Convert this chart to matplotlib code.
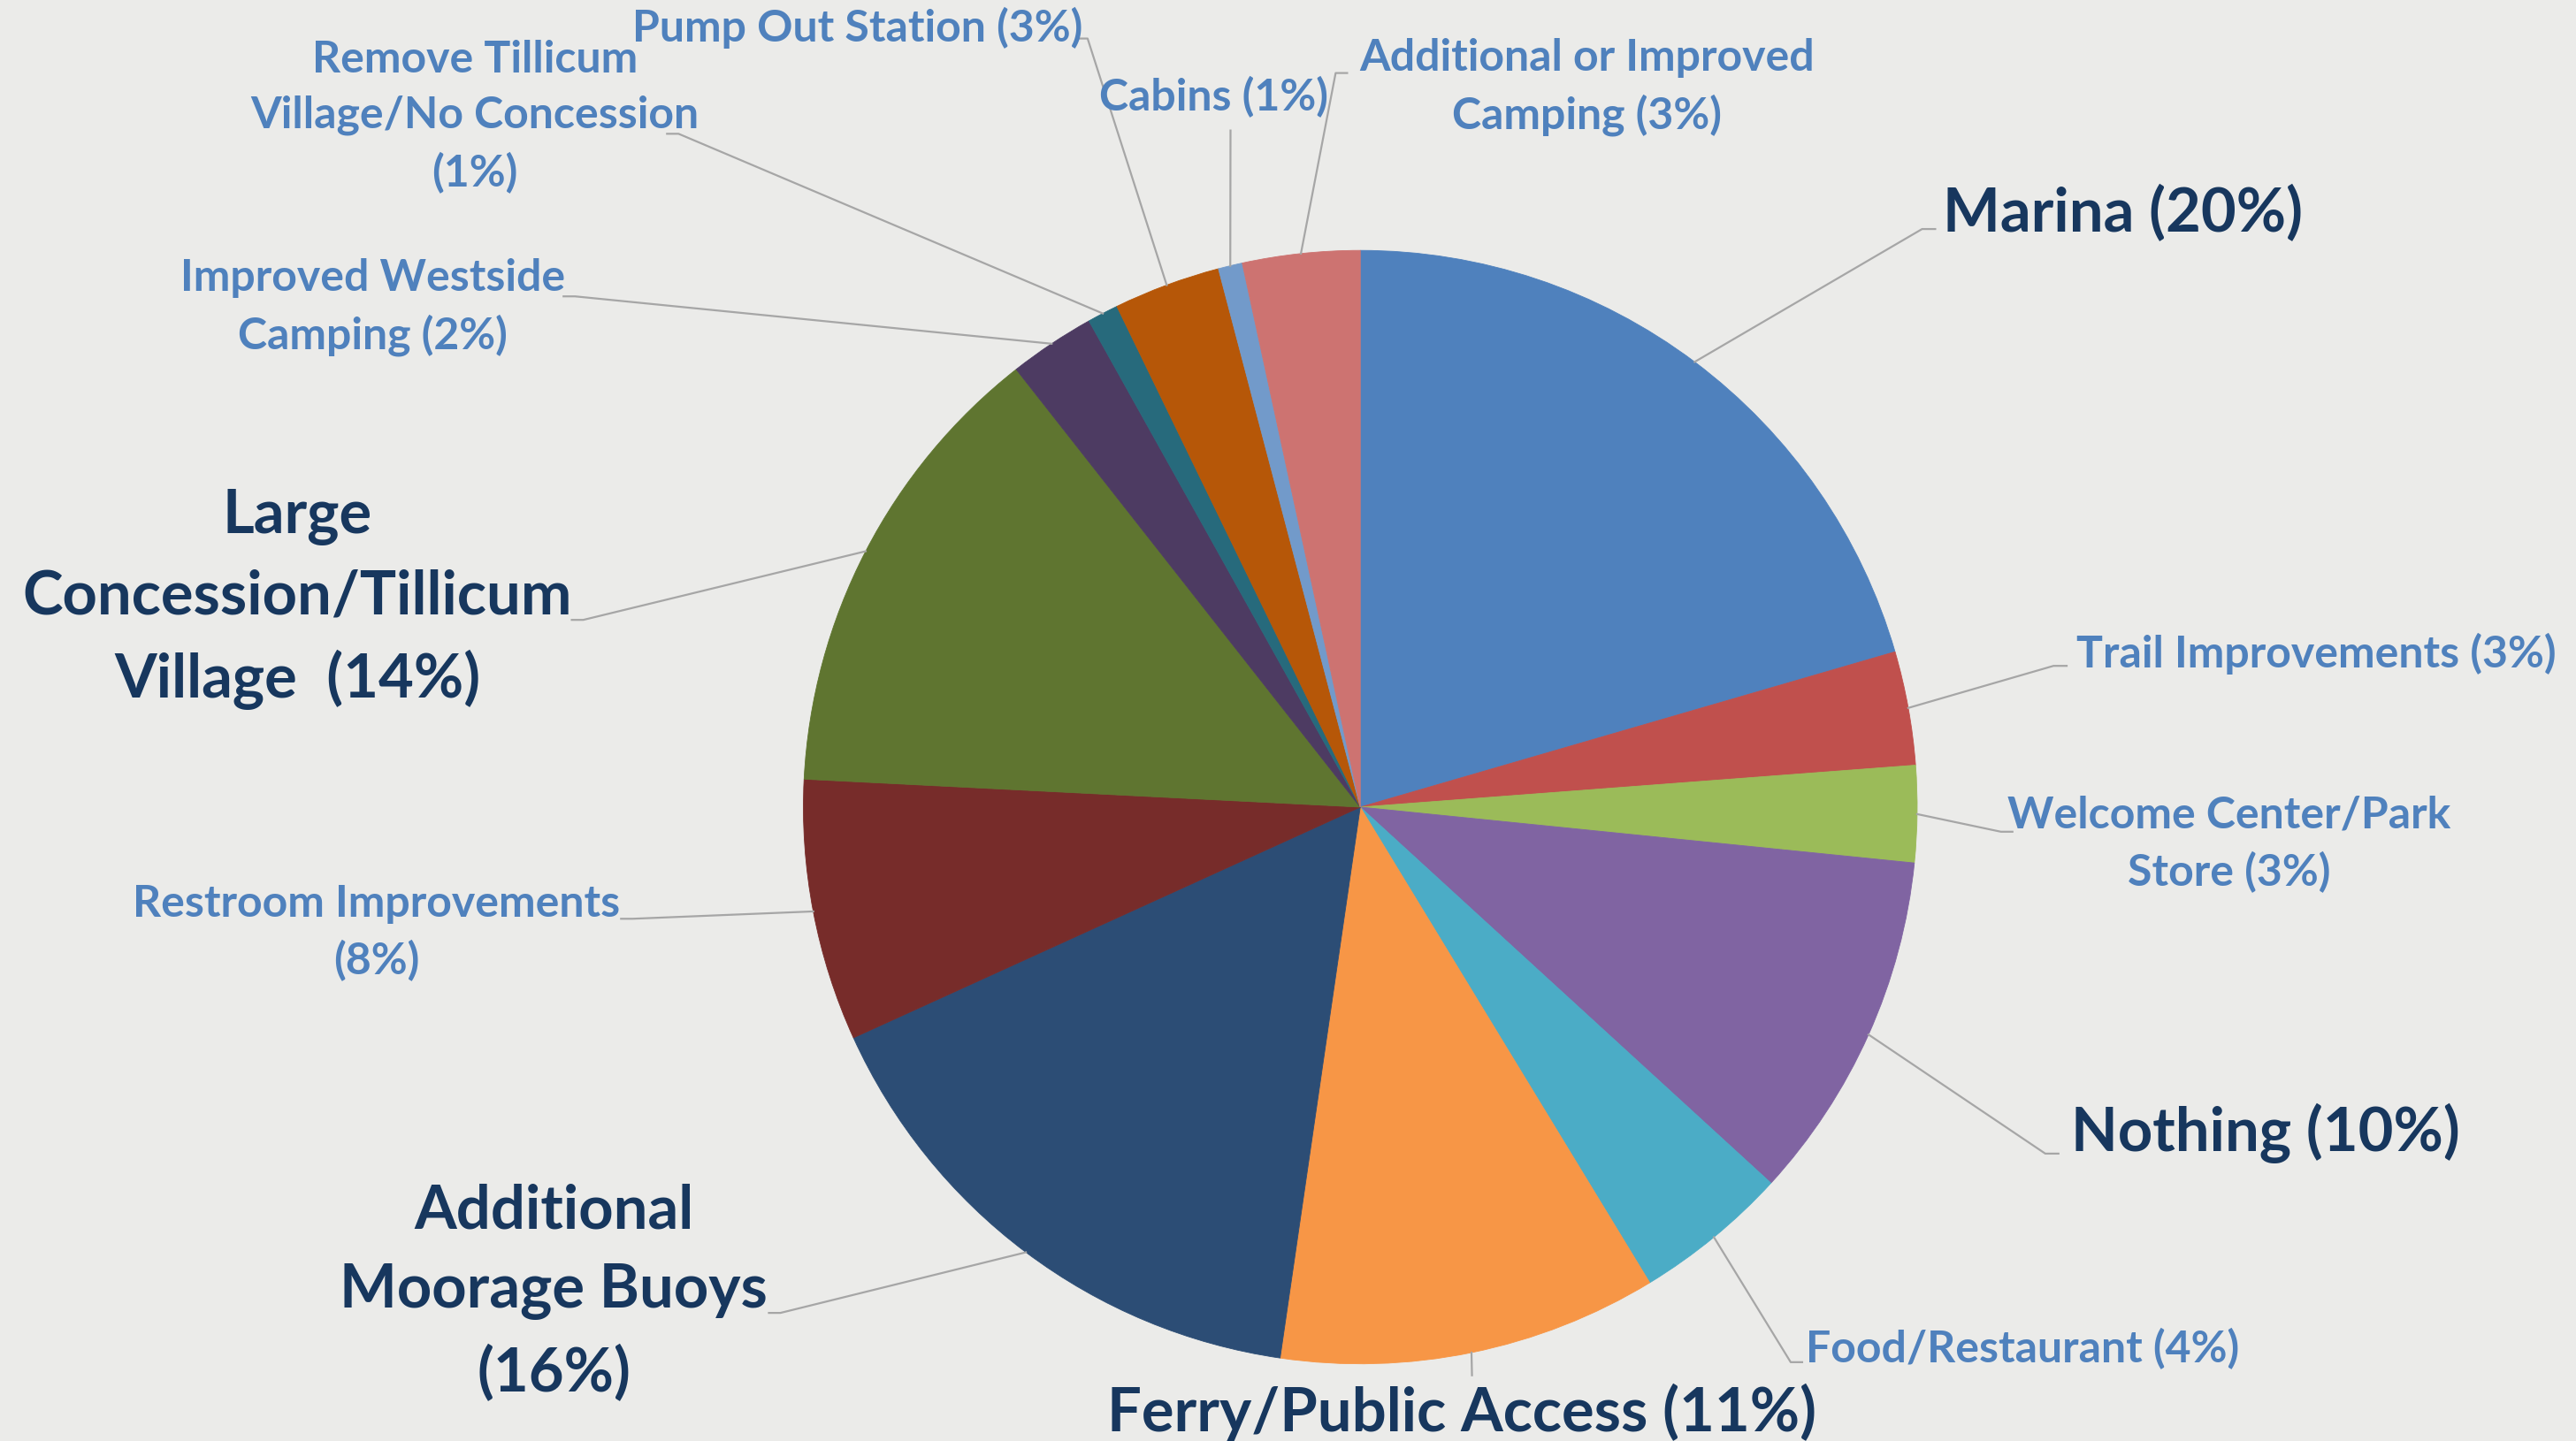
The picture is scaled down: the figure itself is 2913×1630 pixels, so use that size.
import matplotlib.pyplot as plt
import numpy as np

# slices go clockwise from 12 o'clock
categories = ["Marina", "Trail Improvements", "Welcome Center/Park Store", "Nothing",
              "Food/Restaurant", "Ferry/Public Access", "Additional Moorage Buoys",
              "Restroom Improvements", "Large Concession/Tillicum Village",
              "Improved Westside Camping", "Remove Tillicum Village/No Concession",
              "Pump Out Station", "Cabins", "Additional or Improved Camping"]
shares = [20.5, 3.3, 2.8, 10.2, 4.5, 11.0, 15.9, 7.6, 13.6, 2.5, 0.9, 3.1, 0.7, 3.4]
label_text = ["Marina (20%)",
              "Trail Improvements (3%)",
              "Welcome Center/Park\nStore (3%)",
              "Nothing (10%)",
              "Food/Restaurant (4%)",
              "Ferry/Public Access (11%)",
              "Additional\nMoorage Buoys\n(16%)",
              "Restroom Improvements\n(8%)",
              "Large\nConcession/Tillicum\nVillage  (14%)",
              "Improved Westside\nCamping (2%)",
              "Remove Tillicum\nVillage/No Concession\n(1%)",
              "Pump Out Station (3%)",
              "Cabins (1%)",
              "Additional or Improved\nCamping (3%)"]
big_label = [True, False, False, True, False, True, True, False, True, False, False, False, False, False]

slice_colors = ["#4F81BD", "#C0504D", "#9BBB59", "#8064A2", "#4BACC6", "#F79646", "#2C4D75",
                "#772C2A", "#5F7530", "#4D3B62", "#276A7C", "#B65708", "#729ACA", "#CD7371"]

# layout, in pixels of a 1568x878 canvas (y down)
W, H = 1568, 878
pie_center = (828, 492)
pie_radius = 339
# label block centre, elbow of the leader line, end of the short stub
label_pos = [(1292, 130), (1410, 398), (1357, 514), (1379, 690), (1231, 821), (890, 860),
             (337, 787), (229, 568), (181, 365), (227, 187), (289, 71), (522, 17),
             (739, 59), (966, 53)]
elbows = [(1170, 140), (1250, 406), (1218, 507), (1245, 703), (1090, 830), (896, 838),
          (475, 800), (385, 560), (355, 378), (350, 181), (413, 82), (662, 24),
          (749, 80), (813, 45)]
stubs = [(1178, 140), (1258, 406), (1225, 507), (1253, 703), (1097, 830), (896, 838),
         (468, 800), (378, 560), (348, 378), (343, 181), (406, 82), (657, 24),
         (749, 80), (820, 45)]

bg = "#EBEBE9"
navy = "#17375E"
lightblue = "#4F81BD"
fonts = ["Lato", "DejaVu Sans"]

fig = plt.figure(figsize=(29.13, 16.31), dpi=100, facecolor=bg)
ax = fig.add_axes([0, 0, 1, 1])
ax.set_facecolor(bg)

wedges, _ = ax.pie(shares, colors=slice_colors, startangle=-90, counterclock=True,
                   center=pie_center, radius=pie_radius,
                   wedgeprops=dict(linewidth=0.6, edgecolor="none"))
for w, c in zip(wedges, slice_colors):
    w.set_edgecolor(c)

ax.set_xlim(0, W)
ax.set_ylim(H, 0)
ax.set_aspect("equal")
ax.axis("off")

for i, w in enumerate(wedges):
    mid = np.deg2rad((w.theta1 + w.theta2) / 2)
    sx = pie_center[0] + pie_radius * np.cos(mid)
    sy = pie_center[1] + pie_radius * np.sin(mid)
    ex, ey = elbows[i]
    tx, ty = stubs[i]
    ax.plot([sx, ex, tx], [sy, ey, ty], color="#A6A6A6", lw=1.6, zorder=1)
    if big_label[i]:
        ax.text(label_pos[i][0], label_pos[i][1], label_text[i], ha="center", va="center",
                multialignment="center", color=navy, fontsize=49.5, fontweight="bold",
                family=fonts, linespacing=1.52)
    else:
        ax.text(label_pos[i][0], label_pos[i][1], label_text[i], ha="center", va="center",
                multialignment="center", color=lightblue, fontsize=36, fontweight="bold",
                family=fonts, linespacing=1.48)

fig.savefig("out.png", dpi=100, facecolor=bg)
